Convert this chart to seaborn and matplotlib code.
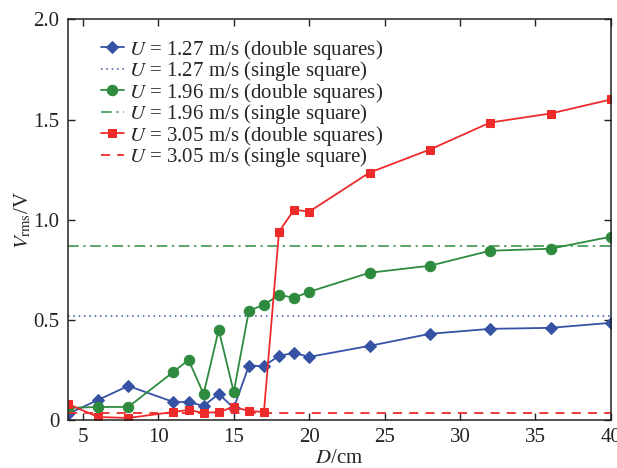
import pandas as pd
import matplotlib
matplotlib.use("Agg")
import matplotlib.pyplot as plt
import seaborn as sns

# spacing D (cm)
d_cm = [4, 6, 8, 11, 12, 13, 14, 15, 16, 17, 18, 19, 20, 24, 28, 32, 36, 40]

# double squares
v_127 = [0.03, 0.10, 0.17, 0.09, 0.09, 0.07, 0.13, 0.06, 0.27, 0.27,
         0.32, 0.335, 0.315, 0.37, 0.43, 0.455, 0.46, 0.485]
v_196 = [0.06, 0.065, 0.065, 0.24, 0.30, 0.13, 0.45, 0.14, 0.545, 0.575,
         0.625, 0.61, 0.64, 0.735, 0.77, 0.845, 0.855, 0.915]
v_305 = [0.08, 0.015, 0.01, 0.04, 0.05, 0.035, 0.04, 0.065, 0.045, 0.04,
         0.94, 1.05, 1.04, 1.235, 1.35, 1.485, 1.53, 1.60]

# single square reference levels
single_127 = 0.517
single_196 = 0.867
single_305 = 0.033

blue = '#3552a5'
green = '#2e8b3e'
red = '#ee2b2b'

sns.set_theme(style="ticks")
plt.rcParams['font.family'] = ['Liberation Serif', 'DejaVu Serif']
plt.rcParams['mathtext.fontset'] = 'stix'

fig = plt.figure(figsize=(6.17, 4.68), dpi=100)
ax = fig.add_axes([0.110, 0.1026, 0.880, 0.856])

df = pd.DataFrame({'D': d_cm, 'v127': v_127, 'v196': v_196, 'v305': v_305})

sns.lineplot(data=df, x='D', y='v127', ax=ax, color=blue, marker='D', markersize=6,
             markeredgecolor=blue, linewidth=1.3, label=r'$U$ = 1.27 m/s (double squares)')
ax.axhline(single_127, color=blue, linestyle=(0, (1, 2.5)), linewidth=1.1,
           label=r'$U$ = 1.27 m/s (single square)')
sns.lineplot(data=df, x='D', y='v196', ax=ax, color=green, marker='o', markersize=7.5,
             markeredgecolor=green, linewidth=1.3, label=r'$U$ = 1.96 m/s (double squares)')
ax.axhline(single_196, color=green, linestyle=(0, (7, 3, 1.5, 3)), linewidth=1.1,
           label=r'$U$ = 1.96 m/s (single square)')
sns.lineplot(data=df, x='D', y='v305', ax=ax, color=red, marker='s', markersize=6,
             markeredgecolor=red, linewidth=1.3, label=r'$U$ = 3.05 m/s (double squares)')
ax.axhline(single_305, color=red, linestyle=(0, (5, 4)), linewidth=1.3,
           label=r'$U$ = 3.05 m/s (single square)')

ax.set_xlim(4, 40)
ax.set_ylim(0, 2.0)
ax.set_xticks([5, 10, 15, 20, 25, 30, 35, 40])
ax.set_yticks([0, 0.5, 1.0, 1.5, 2.0])
ax.set_yticklabels(['0', '0.5', '1.0', '1.5', '2.0'])
ax.tick_params(direction='in', top=True, right=True, labelsize=15, length=5,
               width=1, colors='#222222', pad=6)
for s in ax.spines.values():
    s.set_linewidth(1.1)
    s.set_color('#222222')

ax.set_xlabel(r'$D$/cm', fontsize=15, labelpad=1)
ax.set_ylabel(r'$V_{\mathrm{rms}}$/V', fontsize=15, labelpad=0)

leg = ax.legend(loc='upper left', frameon=False, fontsize=15, handlelength=1.1,
                handletextpad=0.25, labelspacing=-0.12, borderaxespad=0.0,
                bbox_to_anchor=(0.045, 0.975))

fig.savefig('out.png', dpi=100)
